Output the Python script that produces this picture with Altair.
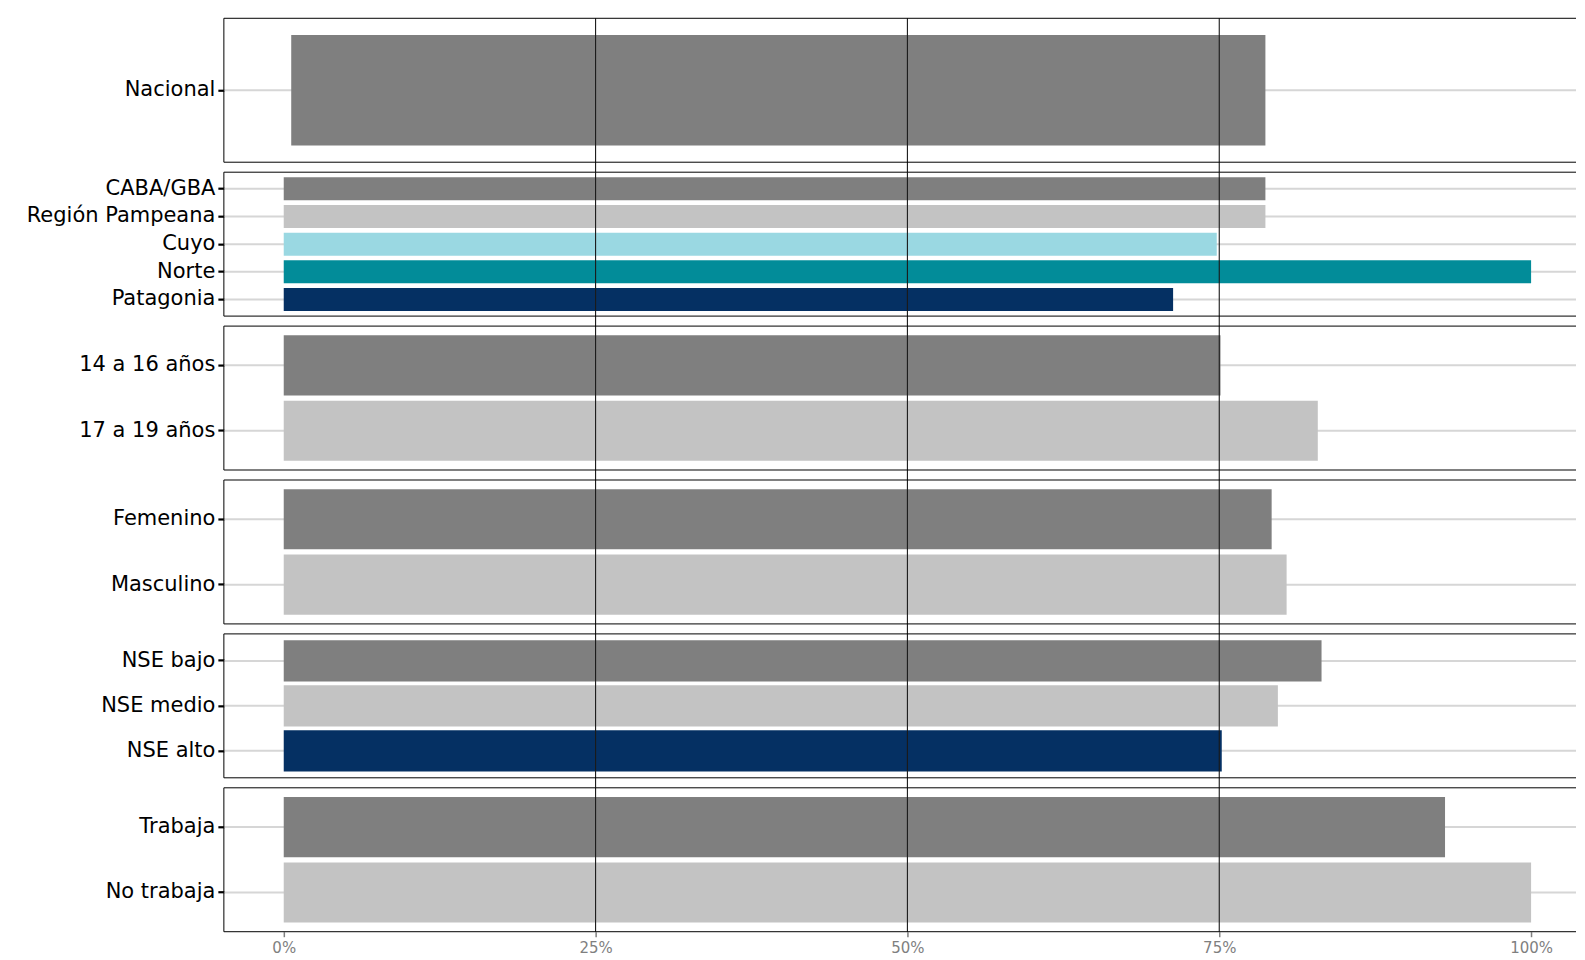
import altair as alt
import pandas as pd

# ---- data ----
grupos = [1, 2, 2, 2, 2, 2, 3, 3, 4, 4, 5, 5, 5, 6, 6]
categorias = ["Nacional", "CABA/GBA", "Región Pampeana", "Cuyo", "Norte", "Patagonia",
              "14 a 16 años", "17 a 19 años", "Femenino", "Masculino",
              "NSE  bajo", "NSE medio", "NSE alto", "Trabaja", "No trabaja"]
valores = [0.787, 0.787, 0.787, 0.748, 1.0, 0.713,
           0.751, 0.829, 0.792, 0.804,
           0.832, 0.797, 0.752, 0.931, 1.0]
inicio = [0.006, 0, 0, 0, 0, 0, 0, 0, 0, 0, 0, 0, 0, 0, 0]
colores = ["#7f7f7f", "#7f7f7f", "#c3c3c3", "#9ad8e2", "#028c99", "#053063",
           "#7f7f7f", "#c3c3c3", "#7f7f7f", "#c3c3c3",
           "#7f7f7f", "#c3c3c3", "#053063", "#7f7f7f", "#c3c3c3"]
referencias = [0.25, 0.5, 0.75]
ticks_x = [0, 0.25, 0.5, 0.75, 1.0]

df = pd.DataFrame({"grupo": grupos, "cat": categorias, "valor": valores,
                   "inicio": inicio, "color": colores})
refs = pd.DataFrame({"ref": referencias})
one = pd.DataFrame({"k": [0]})

H = 144
GAP = 10
W = 1353
FONT = "DejaVu Sans"
xscale = alt.Scale(domain=[-0.048, 1.036], nice=False, zero=False)

panels = []
ng = sorted(set(grupos))
for gi, g in enumerate(ng):
    sub = df[df.grupo == g]
    order = list(sub.cat)
    last = gi == len(ng) - 1
    pi = 0.17 if len(order) == 5 else 0.08
    po = (0.2 + pi) / 2
    ysc = alt.Scale(domain=order, paddingInner=pi, paddingOuter=po)
    yaxis = alt.Axis(title=None, labelFontSize=21, labelColor="black", labelFont=FONT,
                     labelLimit=400, tickColor="black", tickWidth=2.2, tickSize=6,
                     labelPadding=3, domain=False, grid=False)
    if last:
        xaxis = alt.Axis(title=None, values=ticks_x, format=".0%", labelColor="#7f7f7f",
                         labelFontSize=15, labelFont=FONT, tickColor="#7f7f7f",
                         tickWidth=1.5, tickSize=5, labelPadding=4, domain=False, grid=False)
    else:
        xaxis = None
    yenc = alt.Y("cat:N", sort=order, scale=ysc, axis=yaxis)

    grid = alt.Chart(sub).mark_rule(color="#d6d6d6", strokeWidth=2).encode(y=yenc)
    bars = alt.Chart(sub).mark_bar().encode(
        x=alt.X("inicio:Q", scale=xscale, axis=xaxis),
        x2="valor:Q",
        y=yenc,
        color=alt.Color("color:N", scale=None),
    )
    vl = alt.Chart(refs).mark_rule(color="#1a1a1a", strokeWidth=1.1).encode(
        x=alt.X("ref:Q", scale=xscale, axis=xaxis),
        y=alt.value(0),
        y2=alt.value(H if last else H + GAP),
    )
    top = alt.Chart(one).mark_rule(color="black", strokeWidth=1).encode(y=alt.value(0))
    bot = alt.Chart(one).mark_rule(color="black", strokeWidth=1).encode(y=alt.value(H))
    left = alt.Chart(one).mark_rule(color="black", strokeWidth=1).encode(x=alt.value(0))
    panels.append(alt.layer(grid, bars, vl, top, bot, left).properties(width=W, height=H))

chart = alt.vconcat(*panels, spacing=GAP, bounds="flush").resolve_scale(
    y="independent"
).properties(
    padding={"left": 18, "top": 9, "right": 0, "bottom": 0},
    background="white",
).configure_view(stroke=None)

chart.save("out.html", embed_options={"renderer": "svg", "actions": False})
